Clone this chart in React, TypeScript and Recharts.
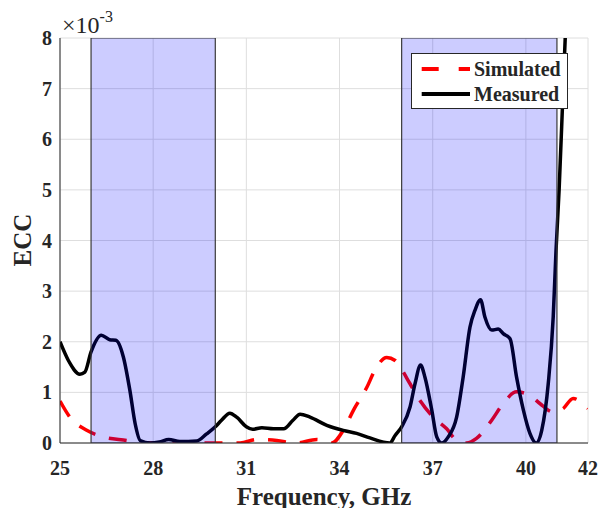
import React from 'react';
import { LineChart, Line, XAxis, YAxis, CartesianGrid, ReferenceArea } from 'recharts';

// ECC values are in units of 1e-3 (axis multiplier shown as x10^-3)
const xTicks = [25, 28, 31, 34, 37, 40, 42];
const yTicks = [0, 1, 2, 3, 4, 5, 6, 7, 8];

const bands = [
  [26, 30],
  [36, 41],
];

const simulatedFreq = [25.0, 25.32, 25.86, 26.34, 27.15, 27.57, 28.0, 29.0, 30.0, 30.8, 31.33, 31.98, 32.6, 33.27, 33.75, 34.12, 34.45, 34.88, 35.14, 35.52, 35.79, 35.95, 36.27, 36.59, 37.02, 37.45, 37.77, 38.09, 38.41, 38.9, 39.27, 39.7, 40.13, 40.45, 40.88, 41.2, 41.52, 41.95, 42.0];
const simulatedEcc = [0.83, 0.51, 0.25, 0.13, 0.05, 0.01, 0.0, 0.0, 0.0, 0.0, 0.07, 0.05, 0.0, 0.07, 0.0, 0.25, 0.65, 1.1, 1.44, 1.69, 1.63, 1.5, 1.17, 0.84, 0.51, 0.28, 0.05, 0.0, 0.09, 0.45, 0.78, 1.01, 0.94, 0.78, 0.61, 0.68, 0.88, 0.71, 0.68];

const measuredFreq = [25.0, 25.27, 25.64, 25.8, 26.0, 26.33, 26.6, 26.8, 27.04, 27.25, 27.42, 27.58, 27.9, 28.2, 28.5, 28.86, 29.4, 29.72, 30.0, 30.2, 30.47, 30.69, 31.0, 31.2, 31.5, 31.87, 32.2, 32.5, 32.73, 33.05, 33.59, 34.12, 34.55, 34.98, 35.62, 35.79, 36.0, 36.27, 36.43, 36.61, 36.75, 36.97, 37.13, 37.29, 37.5, 37.77, 37.98, 38.2, 38.36, 38.54, 38.68, 38.9, 39.11, 39.27, 39.49, 39.7, 39.92, 40.13, 40.33, 40.51, 40.72, 40.88, 40.97, 41.07, 41.2, 41.3];
const measuredEcc = [2.0, 1.63, 1.36, 1.4, 1.8, 2.13, 2.04, 2.03, 1.7, 1.04, 0.38, 0.05, 0.0, 0.02, 0.07, 0.03, 0.04, 0.18, 0.32, 0.45, 0.59, 0.51, 0.32, 0.27, 0.3, 0.28, 0.28, 0.45, 0.57, 0.51, 0.35, 0.25, 0.19, 0.1, 0.0, 0.15, 0.32, 0.71, 1.17, 1.54, 1.3, 0.65, 0.12, 0.0, 0.12, 0.51, 1.3, 2.29, 2.62, 2.83, 2.49, 2.23, 2.25, 2.16, 2.06, 1.3, 0.65, 0.19, 0.0, 0.25, 1.17, 2.49, 3.8, 5.0, 7.0, 8.5];

const simulatedData = simulatedFreq.map((x, i) => ({ x, y: simulatedEcc[i] }));
const measuredData = measuredFreq.map((x, i) => ({ x, y: measuredEcc[i] }));

const FONT = '"Liberation Serif", "Times New Roman", serif';
const AXIS = '#262626';
const tickStyle = { fontFamily: FONT, fontSize: 20, fontWeight: 700, fill: AXIS };

export default function App() {
  return (
    <div style={{ position: 'absolute', left: 0, top: 0, width: 605, height: 508, background: '#fff' }}>
      <LineChart width={605} height={508} margin={{ top: 38, right: 17, left: 0, bottom: 0 }}>
        <CartesianGrid stroke="#dedede" strokeWidth={1} />
        <XAxis
          dataKey="x"
          type="number"
          domain={[25, 42]}
          ticks={xTicks}
          height={65}
          stroke={AXIS}
          tickSize={0}
          tickMargin={18}
          tick={tickStyle}
          allowDataOverflow
          label={{ value: 'Frequency, GHz', position: 'insideBottom', offset: 3.5, style: { fontFamily: FONT, fontSize: 25, fontWeight: 700, fill: AXIS } }}
        />
        <XAxis
          xAxisId="top"
          dataKey="x"
          type="number"
          orientation="top"
          domain={[25, 42]}
          ticks={xTicks}
          height={0}
          mirror
          stroke={AXIS}
          tickSize={5}
          tickFormatter={() => ''}
        />
        <YAxis
          type="number"
          domain={[0, 8]}
          ticks={yTicks}
          width={60}
          stroke={AXIS}
          tickSize={0}
          tickMargin={8}
          tick={tickStyle}
          allowDataOverflow
        />
        <YAxis
          yAxisId="right"
          type="number"
          orientation="right"
          domain={[0, 8]}
          ticks={yTicks}
          width={0}
          mirror
          stroke={AXIS}
          tickSize={5}
          tickFormatter={() => ''}
        />
        <Line
          data={simulatedData}
          dataKey="y"
          type="monotone"
          stroke="#ff0000"
          strokeWidth={3.5}
          strokeDasharray="18 14"
          dot={false}
          isAnimationActive={false}
        />
        <Line
          data={measuredData}
          dataKey="y"
          type="monotone"
          stroke="#000000"
          strokeWidth={3.5}
          dot={false}
          isAnimationActive={false}
        />
        {bands.map(([a, b]) => (
          <ReferenceArea
            key={a}
            x1={a}
            x2={b}
            y1={0}
            y2={8}
            fill="#0000ff"
            fillOpacity={0.2}
            stroke="#3a3a3a"
            strokeWidth={1.2}
            strokeOpacity={1}
            ifOverflow="hidden"
            zIndex={1000}
          />
        ))}
      </LineChart>
      <svg width={605} height={508} style={{ position: 'absolute', left: 0, top: 0, pointerEvents: 'none' }}>
        <text x={62} y={33} fontFamily={FONT} fontSize={24} fill={AXIS}>
          ×10
          <tspan fontSize={16} dy={-11}>-3</tspan>
        </text>
        <text
          x={31}
          y={240}
          transform="rotate(-90 31 240)"
          textAnchor="middle"
          fontFamily={FONT}
          fontSize={25}
          fontWeight={700}
          fill={AXIS}
        >
          ECC
        </text>
        <rect x={411.5} y={53.5} width={156} height={55} fill="#fff" stroke={AXIS} strokeWidth={1} />
        <line x1={421.7} y1={69} x2={470} y2={69} stroke="#ff0000" strokeWidth={4} strokeDasharray="17 20" />
        <line x1={421.7} y1={94} x2={470} y2={94} stroke="#000" strokeWidth={4} />
        <text x={474} y={75.6} fontFamily={FONT} fontSize={20} fontWeight={700} fill={AXIS}>Simulated</text>
        <text x={474} y={100.6} fontFamily={FONT} fontSize={20} fontWeight={700} fill={AXIS}>Measured</text>
      </svg>
    </div>
  );
}
